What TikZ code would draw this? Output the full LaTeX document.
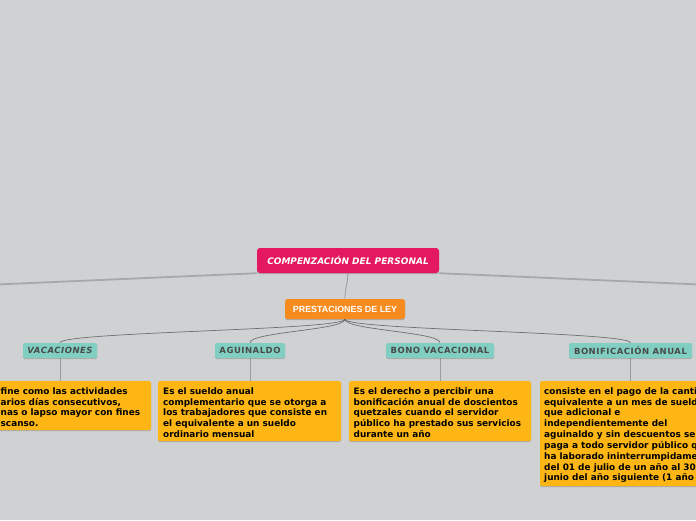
\documentclass[tikz,border=0pt]{standalone}
\usepackage{fontspec}
\setmainfont{DejaVu Sans}
\newfontfamily\arialb{Liberation Sans}
\usetikzlibrary{calc,shadows}
\definecolor{bgc}{HTML}{D0D1D3}
\definecolor{rootc}{HTML}{E3185F}
\definecolor{orc}{HTML}{F68B1F}
\definecolor{tealc}{HTML}{80CFC2}
\definecolor{yelc}{HTML}{FDB614}
\definecolor{tealtx}{HTML}{4A4A4A}
\definecolor{bigline}{HTML}{A7A8AA}
\definecolor{midline}{HTML}{9A9B9D}
\definecolor{fanline}{HTML}{6E6F71}
\pgfdeclarelayer{bglayer}
\pgfdeclarelayer{edgelayer}
\pgfsetlayers{bglayer,edgelayer,main}
\tikzset{
  box/.style={rectangle, inner sep=0pt,
    drop shadow={shadow xshift=0pt, shadow yshift=-1.2pt, fill=black, opacity=0.18}},
  rootbox/.style={box, fill=rootc, rounded corners=3pt, minimum width=182pt, minimum height=25pt,
    text=white, font=\fontsize{9}{11}\selectfont\bfseries\itshape},
  orbox/.style={box, fill=orc, rounded corners=2.5pt, minimum width=120pt, minimum height=20pt,
    text=white, font=\arialb\fontsize{8.9}{11}\selectfont\bfseries},
  tealbox/.style={box, fill=tealc, rounded corners=1.5pt, minimum height=15pt,
    text=tealtx, font=\fontsize{8.5}{10}\selectfont\bfseries\addfontfeature{LetterSpace=6}},
  yelbox/.style={box, fill=yelc, rounded corners=1.5pt},
  yeltext/.style={inner sep=0pt, anchor=north west, align=left, text=black,
    font=\fontsize{8.9}{10.85}\selectfont\bfseries},
  bigedge/.style={draw=bigline, line width=1.8pt},
  midedge/.style={draw=midline, line width=0.8pt},
  fanedge/.style={draw=fanline, line width=0.7pt},
  downedge/.style={draw=midline, line width=1pt}
}
\begin{document}
\begin{tikzpicture}[x=1pt,y=-1pt]
\useasboundingbox (0,0) rectangle (696,520);
\clip (0,0) rectangle (696,520);
\begin{pgfonlayer}{bglayer}
\fill[bgc] (0,0) rectangle (696,520);
\end{pgfonlayer}

% nodes
\node[rootbox] (root) at (348,260.5) {COMPENZACIÓN DEL PERSONAL};
\node[orbox] (prest) at (345,309) {PRESTACIONES DE LEY};
\node[tealbox, minimum width=74pt, font=\fontsize{8.5}{10}\selectfont\bfseries\itshape\addfontfeature{LetterSpace=6}] (vac) at (60,350.5) {VACACIONES};
\node[tealbox, minimum width=70pt] (agu) at (250,350.5) {AGUINALDO};
\node[tealbox, minimum width=108pt] (bono) at (440,350.5) {BONO VACACIONAL};
\node[tealbox, minimum width=123pt] (bonif) at (630.5,350.5) {BONIFICACIÓN ANUAL};

\node[yelbox, minimum width=183pt, minimum height=49pt] (y1) at (59.5,405.5) {};
\node[yelbox, minimum width=183pt, minimum height=60pt] (y2) at (249.5,411) {};
\node[yelbox, minimum width=182pt, minimum height=60pt] (y3) at (440,411) {};
\node[yelbox, minimum width=183pt, minimum height=105pt] (y4) at (631.5,433.5) {};

\node[yeltext] (t1) at (0.5,387.2) {fine como las actividades\\arios días consecutivos,\\nas o lapso mayor con fines\\scanso.};
\node[yeltext] (t2) at (163,387.2) {Es el sueldo anual\\complementario que se otorga a\\los trabajadores que consiste en\\el equivalente a un sueldo\\ordinario mensual};
\node[yeltext] (t3) at (353.5,387.2) {Es el derecho a percibir una\\bonificación anual de doscientos\\quetzales cuando el servidor\\público ha prestado sus servicios\\durante un año};
\node[yeltext] (t4) at (544,387.2) {consiste en el pago de la canti\\equivalente a un mes de sueld\\que adicional e\\independientemente del\\aguinaldo y sin descuentos se\\paga a todo servidor público q\\ha laborado ininterrumpidame\\del 01 de julio de un año al 30\\junio del año siguiente (1 año};

\coordinate (farL) at (-100,288.7);
\coordinate (farR) at (796,288.7);

% connectors
\begin{pgfonlayer}{edgelayer}
\draw[bigedge] (root.south west) -- (farL);
\draw[bigedge] (root.south east) -- (farR);
\draw[midedge] (root.south) .. controls ($(root.south)+(-0.5,12)$) and ($(prest.north)+(0,-12)$) .. (prest.north);
\foreach \c in {vac,agu,bono,bonif}{
  \draw[fanedge] (prest.south) .. controls ($(prest.south)+(0,11)$) and ($(\c.north)+(0,-11)$) .. (\c.north);
}
\draw[downedge] (vac.south) -- (y1.north -| vac.south);
\draw[downedge] (agu.south) -- (y2.north -| agu.south);
\draw[downedge] (bono.south) -- (y3.north -| bono.south);
\draw[downedge] (bonif.south) -- (y4.north -| bonif.south);
\end{pgfonlayer}
\end{tikzpicture}
\end{document}
